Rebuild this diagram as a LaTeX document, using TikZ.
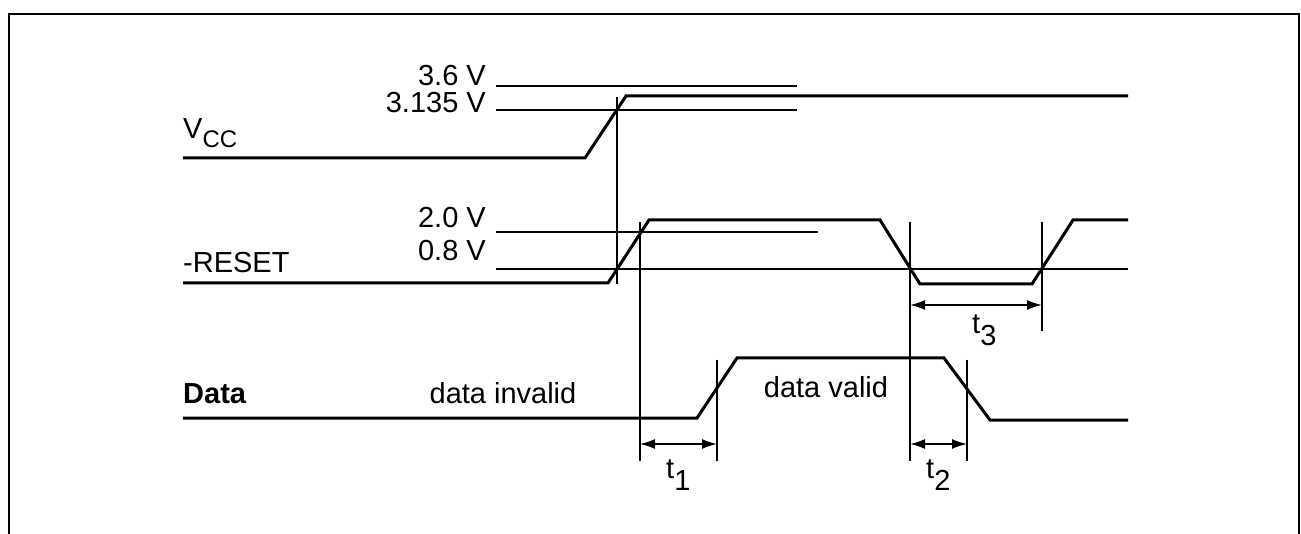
\documentclass[tikz,border=0pt]{standalone}
\usepackage{fontspec}
\setmainfont{Liberation Sans}
\usetikzlibrary{arrows.meta}
\begin{document}
\begin{tikzpicture}[x=1pt,y=-1pt,
  sig/.style={line width=3pt, line join=miter},
  thinline/.style={line width=1.1pt},
  framestyle/.style={line width=2.5pt},
  lbl/.style={font=\fontsize{29}{30}\selectfont, inner sep=0pt},
  dimarrow/.style={line width=1.6pt, {Latex[length=15pt,width=10pt]}-{Latex[length=15pt,width=10pt]}}]
\useasboundingbox (0,0) rectangle (1301,534);
% frame (open at the bottom)
\coordinate (fbl) at (9,534);
\coordinate (ftl) at (9,14);
\coordinate (ftr) at (1299,14);
\coordinate (fbr) at (1299,534);
\draw[framestyle] (fbl) -- (ftl) -- (ftr) -- (fbr);

% threshold lines
\coordinate (v36a) at (496,86);   \coordinate (v36b) at (797,86);
\coordinate (v31a) at (496,110);  \coordinate (v31b) at (797,110);
\coordinate (v20a) at (496,232);  \coordinate (v20b) at (818,232);
\coordinate (v08a) at (496,269);  \coordinate (v08b) at (1128,269);
\draw[thinline] (v36a) -- (v36b);
\draw[thinline] (v31a) -- (v31b);
\draw[thinline] (v20a) -- (v20b);
\draw[thinline] (v08a) -- (v08b);

% threshold labels
\node[lbl, anchor=base east] (l36) at (486,86) {3.6 V};
\node[lbl, anchor=base east] (l31) at (486,113) {3.135 V};
\node[lbl, anchor=base east] (l20) at (486,228) {2.0 V};
\node[lbl, anchor=base east] (l08) at (486,261) {0.8 V};

% signal names
\node[lbl, anchor=base west] (vcc) at (183,139) {V\raisebox{-9pt}{\fontsize{24}{24}\selectfont CC}};
\node[lbl, anchor=base west] (rst) at (183,273) {-RESET};
\node[lbl, anchor=base west, font=\fontsize{29}{30}\selectfont\bfseries] (dat) at (183,403) {Data};
\node[lbl, anchor=base] (dinv) at (503,403) {data invalid};
\node[lbl, anchor=base] (dval) at (826,398) {data valid};

% Vcc waveform
\coordinate (c0) at (183,158);
\coordinate (c1) at (585,158);
\coordinate (c2) at (626,96);
\coordinate (c3) at (1128,96);
\draw[sig] (c0) -- (c1) -- (c2) -- (c3);

% -RESET waveform
\coordinate (r0) at (183,283);
\coordinate (r1) at (608,283);
\coordinate (r2) at (649,220);
\coordinate (r3) at (880,220);
\coordinate (r4) at (920,284);
\coordinate (r5) at (1032,284);
\coordinate (r6) at (1073,220);
\coordinate (r7) at (1128,220);
\draw[sig] (r0) -- (r1) -- (r2) -- (r3) -- (r4) -- (r5) -- (r6) -- (r7);

% Data waveform
\coordinate (d0) at (183,418);
\coordinate (d1) at (697,418);
\coordinate (d2) at (737,358);
\coordinate (d3) at (944,358);
\coordinate (d4) at (990,420);
\coordinate (d5) at (1128,420);
\draw[sig] (d0) -- (d1) -- (d2) -- (d3) -- (d4) -- (d5);

% vertical reference lines
\coordinate (ma1) at (617,97);  \coordinate (ma2) at (617,284);
\coordinate (mb1) at (640,222); \coordinate (mb2) at (640,461);
\coordinate (mc1) at (717,360); \coordinate (mc2) at (717,461);
\coordinate (md1) at (910,222); \coordinate (md2) at (910,461);
\coordinate (me1) at (967,360); \coordinate (me2) at (967,461);
\coordinate (mf1) at (1042,222); \coordinate (mf2) at (1042,331);
\draw[thinline] (ma1) -- (ma2);
\draw[thinline] (mb1) -- (mb2);
\draw[thinline] (mc1) -- (mc2);
\draw[thinline] (md1) -- (md2);
\draw[thinline] (me1) -- (me2);
\draw[thinline] (mf1) -- (mf2);

% dimension arrows
\coordinate (t1a) at (640,444); \coordinate (t1b) at (717,444);
\coordinate (t2a) at (910,444); \coordinate (t2b) at (967,444);
\coordinate (t3a) at (910,305); \coordinate (t3b) at (1042,305);
\draw[dimarrow] (t1a) -- (t1b);
\draw[dimarrow] (t2a) -- (t2b);
\draw[dimarrow] (t3a) -- (t3b);

\node[lbl, anchor=base west] (t1) at (666,478) {t\raisebox{-12pt}{1}};
\node[lbl, anchor=base west] (t2) at (926,478) {t\raisebox{-12pt}{2}};
\node[lbl, anchor=base west] (t3) at (972,334) {t\raisebox{-12pt}{3}};
\end{tikzpicture}
\end{document}
